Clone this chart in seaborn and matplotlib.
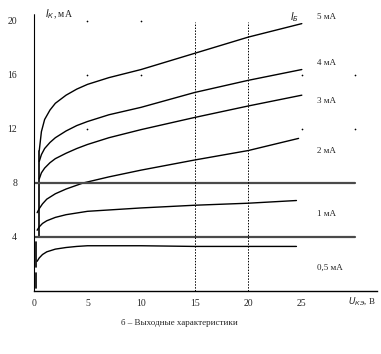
import pandas as pd
import seaborn as sns
import matplotlib.pyplot as plt

# collector current I_K (mA) vs collector-emitter voltage U_KE (V)
u_5 = [0.5, 0.7, 1, 1.5, 2, 3, 4, 5, 7, 10, 15, 20, 25]
i_5 = [10.4, 11.8, 12.7, 13.4, 13.9, 14.5, 14.95, 15.3, 15.8, 16.4, 17.6, 18.8, 19.8]
u_4 = [0.5, 0.7, 1, 1.5, 2, 3, 4, 5, 7, 10, 15, 20, 25]
i_4 = [9.6, 10.1, 10.55, 11.0, 11.35, 11.85, 12.25, 12.55, 13.05, 13.6, 14.7, 15.6, 16.4]
u_3 = [0.5, 0.7, 1, 1.5, 2, 3, 4, 5, 7, 10, 15, 20, 25]
i_3 = [8.3, 8.75, 9.1, 9.5, 9.8, 10.2, 10.55, 10.85, 11.35, 11.95, 12.85, 13.7, 14.5]
u_2 = [0.3, 0.5, 0.8, 1.2, 2, 3, 4.6, 7, 10, 15, 20, 24.7]
i_2 = [5.8, 6.1, 6.45, 6.8, 7.2, 7.55, 8.0, 8.45, 8.95, 9.7, 10.4, 11.3]
u_1 = [0.3, 0.5, 0.8, 1.2, 2, 3, 5, 7, 10, 15, 20, 24.5]
i_1 = [4.5, 4.75, 5.0, 5.2, 5.45, 5.65, 5.9, 6.0, 6.15, 6.35, 6.5, 6.7]
u_05 = [0.3, 0.5, 0.8, 1.2, 2, 3, 4, 5, 10, 15, 20, 24.5]
i_05 = [2.2, 2.45, 2.7, 2.9, 3.1, 3.22, 3.3, 3.35, 3.35, 3.3, 3.3, 3.3]

curve_labels = ["5 мА", "4 мА", "3 мА", "2 мА", "1 мА", "0,5 мА"]
label_y = [20.3, 16.9, 14.1, 10.4, 5.7, 1.7]

# start-up vertical segments and the two horizontal reference lines
vert_x = [0.5, 0.2, 0.15]
vert_lo = [4.0, 1.8, 0.2]
vert_hi = [10.4, 3.6, 1.3]
hlines_y = [8, 4]
vlines_x = [15, 20]

# small grid marks visible on the scan
dot_x = [5, 10, 5, 10, 5, 25, 30, 25, 30]
dot_y = [20, 20, 16, 16, 12, 16, 16, 12, 12]

xticks = [0, 5, 10, 15, 20, 25]
yticks = [4, 8, 12, 16, 20]

frames = []
for name, u, i in zip(curve_labels, [u_5, u_4, u_3, u_2, u_1, u_05],
                      [i_5, i_4, i_3, i_2, i_1, i_05]):
    frames.append(pd.DataFrame({"U": u, "I": i, "Ib": name}))
df = pd.concat(frames, ignore_index=True)

sns.set_theme(style="white")
plt.rcParams["font.family"] = ["Liberation Serif", "DejaVu Serif"]

fig = plt.figure(figsize=(3.81, 3.54), dpi=100)
ax = fig.add_axes([0.089, 0.178, 0.9, 0.782])

sns.lineplot(data=df, x="U", y="I", units="Ib", estimator=None, color="black",
             lw=1.0, sort=False, ax=ax, legend=False)

for x, lo, hi in zip(vert_x, vert_lo, vert_hi):
    ax.plot([x, x], [lo, hi], color="black", lw=1.2)
for y in hlines_y:
    ax.plot([0, 30], [y, y], color="#4a4a4a", lw=1.6)
for x in vlines_x:
    ax.plot([x, x], [0, 19.9], color="black", lw=0.7, ls=(0, (1.5, 1.5)))
ax.scatter(dot_x, dot_y, s=1.5, color="black", linewidths=0)

ax.set_xlim(0, 32)
ax.set_ylim(0, 20.5)
ax.set_xticks(xticks)
ax.set_yticks(yticks)
ax.set_xticklabels([str(t) for t in xticks], fontsize=7)
ax.set_yticklabels([str(t) for t in yticks], fontsize=7)
ax.tick_params(axis="both", length=0)
ax.tick_params(axis="y", pad=12)
ax.tick_params(axis="x", pad=6)
ax.set_xlabel("")
ax.set_ylabel("")

for s in ["top", "right"]:
    ax.spines[s].set_visible(False)
ax.spines["left"].set_linestyle((0, (1, 1)))
ax.spines["left"].set_linewidth(0.8)
ax.spines["left"].set_color("black")
ax.spines["bottom"].set_linewidth(1.0)
ax.spines["bottom"].set_color("black")

for lab, y in zip(curve_labels, label_y):
    ax.text(26.4, y, lab, fontsize=6.5, va="center", ha="left")
ax.text(23.9, 20.3, "$I_Б$", fontsize=7, va="center", ha="left")
ax.text(1.0, 20.5, "$I_К$, мА", fontsize=7, va="center", ha="left")
ax.text(31.9, -0.75, "$U_{КЭ}$, В", fontsize=6.5, va="center", ha="right")

fig.text(0.47, 0.088, "б – Выходные характеристики", fontsize=6.5,
         ha="center", va="center")

fig.savefig("out.png", dpi=100)
